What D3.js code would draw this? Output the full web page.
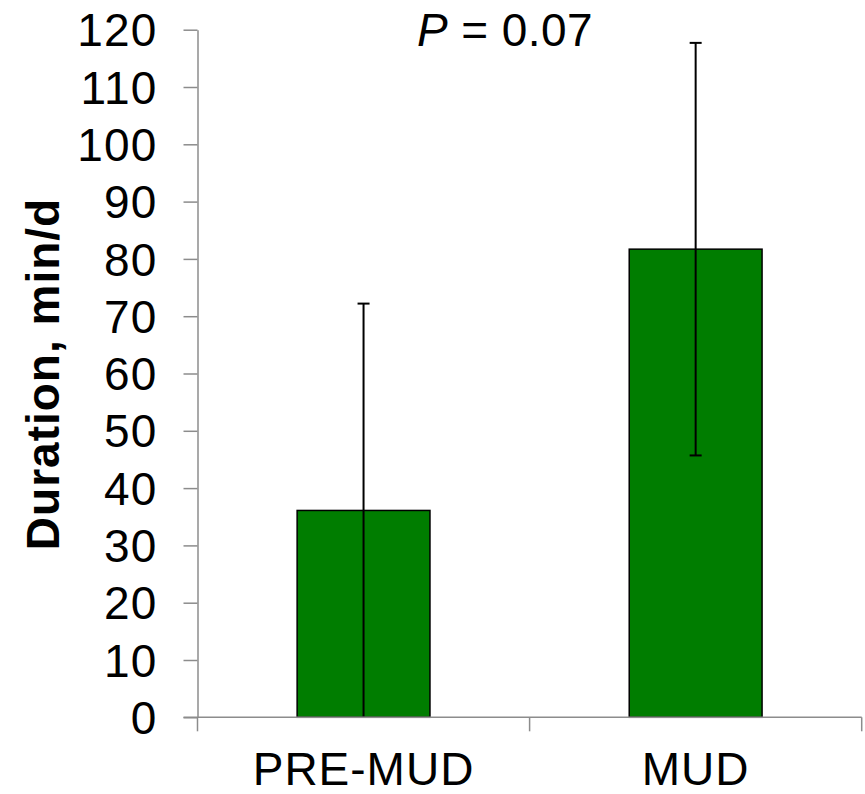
<!DOCTYPE html>
<html>
<head>
<meta charset="utf-8">
<script src="https://cdn.jsdelivr.net/npm/d3@7"></script>
<style>
  html, body { margin: 0; padding: 0; background: #fff; }
  svg { display: block; font-family: "Liberation Sans", Arial, sans-serif; }
</style>
</head>
<body>
<svg id="chart" width="865" height="794"></svg>
<script>
// Daily duration by period (mean ± SE)
const categories = ["PRE-MUD", "MUD"];
const means = [36.1, 81.7];
const errors = [36.1, 36.0];
const yTicks = [0, 10, 20, 30, 40, 50, 60, 70, 80, 90, 100, 110, 120];
const yTitle = "Duration, min/d";
const pValue = "0.07";

const svg = d3.select("#chart");
const plot = { left: 197.5, right: 861.7, top: 29.7, bottom: 717.3 };

const x = d3.scaleBand()
  .domain(categories)
  .range([plot.left, plot.right])
  .paddingInner(0.6)
  .paddingOuter(0.3);

const y = d3.scaleLinear()
  .domain([0, 120])
  .range([plot.bottom, plot.top]);

const axisColor = "#8c8c8c";

// Bars
const data = categories.map((c, i) => ({ c, m: means[i], e: errors[i] }));

svg.append("g").selectAll("rect")
  .data(data)
  .join("rect")
  .attr("x", d => x(d.c))
  .attr("y", d => y(d.m))
  .attr("width", x.bandwidth())
  .attr("height", d => y(0) - y(d.m))
  .attr("fill", "#007d00")
  .attr("stroke", "#000")
  .attr("stroke-width", 1.5);

// Error bars
const eb = svg.append("g").attr("stroke", "#000").attr("stroke-width", 2);
data.forEach(d => {
  const cx = x(d.c) + x.bandwidth() / 2;
  const lo = Math.max(0, d.m - d.e), hi = d.m + d.e;
  eb.append("line").attr("x1", cx).attr("x2", cx).attr("y1", y(lo)).attr("y2", y(hi));
  eb.append("line").attr("x1", cx - 6).attr("x2", cx + 6).attr("y1", y(hi)).attr("y2", y(hi));
  if (lo > 0) {
    eb.append("line").attr("x1", cx - 6).attr("x2", cx + 6).attr("y1", y(lo)).attr("y2", y(lo));
  }
});

// Y axis
const yAxis = svg.append("g")
  .attr("transform", `translate(${plot.left},0)`)
  .call(d3.axisLeft(y).tickValues(yTicks).tickSize(14).tickPadding(26).tickSizeOuter(0));
yAxis.select(".domain").attr("stroke", axisColor).attr("stroke-width", 1.5);
yAxis.selectAll(".tick line").attr("stroke", axisColor).attr("stroke-width", 1.5);
yAxis.selectAll(".tick text")
  .attr("font-size", 46)
  .attr("letter-spacing", 1.2)
  .attr("font-family", "Liberation Sans, Arial, sans-serif")
  .attr("fill", "#000")
  .attr("dy", "0.35em");

// X axis with ticks at category boundaries
const xg = svg.append("g");
xg.append("line")
  .attr("x1", plot.left - 14).attr("x2", plot.right)
  .attr("y1", y(0)).attr("y2", y(0))
  .attr("stroke", axisColor).attr("stroke-width", 1.5);
const step = x.step();
const bounds = [plot.left, plot.left + step, plot.right];
xg.selectAll("line.b")
  .data(bounds)
  .join("line")
  .attr("class", "b")
  .attr("x1", d => d).attr("x2", d => d)
  .attr("y1", y(0)).attr("y2", y(0) + 14)
  .attr("stroke", axisColor).attr("stroke-width", 1.5);
xg.selectAll("text")
  .data(categories)
  .join("text")
  .attr("x", d => x(d) + x.bandwidth() / 2)
  .attr("y", 785)
  .attr("text-anchor", "middle")
  .attr("font-size", 46)
  .attr("letter-spacing", 1)
  .attr("fill", "#000")
  .text(d => d);

// Y axis title
svg.append("text")
  .attr("transform", `translate(59,374) rotate(-90)`)
  .attr("text-anchor", "middle")
  .attr("font-size", 46)
  .attr("letter-spacing", 1)
  .attr("font-weight", "bold")
  .attr("fill", "#000")
  .text(yTitle);

// P-value annotation
const pt = svg.append("text")
  .attr("x", 505)
  .attr("y", 46)
  .attr("text-anchor", "middle")
  .attr("font-size", 46)
  .attr("letter-spacing", 0.4)
  .attr("fill", "#000");
pt.append("tspan").attr("font-style", "italic").text("P");
pt.append("tspan").text(" = " + pValue);
</script>
</body>
</html>
